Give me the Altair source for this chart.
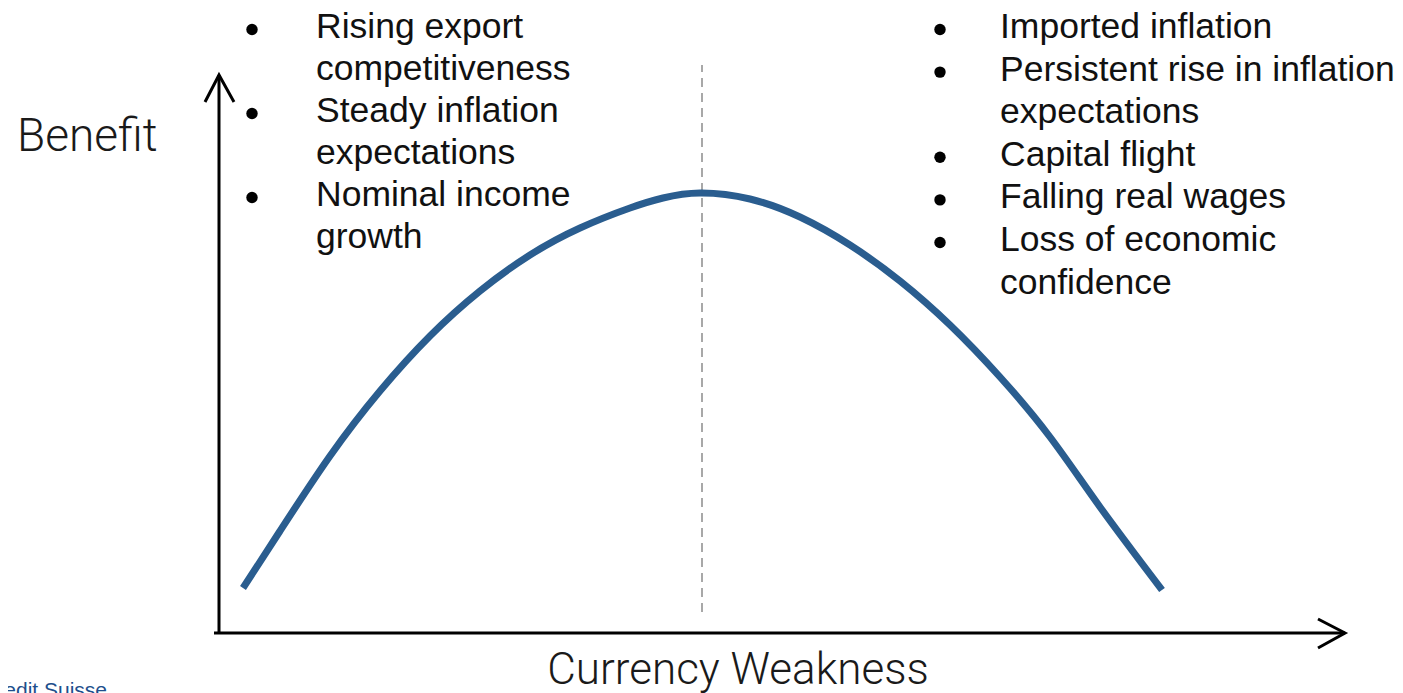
import altair as alt
import pandas as pd

# ---------------- data ----------------
# curve (units: 1 unit ~ 10 px, origin at axis corner)
curve_x = [2.4, 6.1, 11.1, 16.1, 21.1, 26.1, 31.1, 36.1, 41.1, 44.4, 48.1,
           53.1, 58.1, 63.1, 68.1, 73.1, 78.1, 83.1, 88.1, 94.3]
curve_y = [4.5, 10.2, 17.7, 24.2, 29.7, 34.2, 37.8, 40.5, 42.5, 43.5, 44.0,
           43.4, 41.6, 38.8, 35.2, 30.8, 25.6, 19.6, 12.6, 4.3]

left_lines = ["Rising export", "competitiveness", "Steady inflation",
              "expectations", "Nominal income", "growth"]
left_bullet = [True, False, True, False, True, False]
right_lines = ["Imported inflation", "Persistent rise in inflation",
               "expectations", "Capital flight", "Falling real wages",
               "Loss of economic", "confidence"]
right_bullet = [True, True, False, True, True, True, False]

y_title = "Benefit"
x_title = "Currency Weakness"
source_text = "Source: Credit Suisse"

# ---------------- layout ----------------
W, H = 1387, 685
XDOM = [-21.1, 117.6]
YDOM = [-6.0, 62.5]
xs = alt.Scale(domain=XDOM, nice=False, zero=False)
ys = alt.Scale(domain=YDOM, nice=False, zero=False)
X = lambda f: alt.X(f, type="quantitative", scale=xs, axis=None)
Y = lambda f: alt.Y(f, type="quantitative", scale=ys, axis=None)

curve_df = pd.DataFrame({"x": curve_x, "y": curve_y})

# axes with arrow heads (polylines)
axis_df = pd.DataFrame({
    "x": [0, 0, -1.4, 0, 1.5, -0.5, 112.6, 109.9, 112.6, 109.9],
    "y": [0, 55.8, 53.1, 55.8, 53.1, 0, 0, 1.4, 0, -1.5],
    "seg": ["ya", "ya", "yh", "yh", "yh", "xa", "xa", "xh", "xh", "xh"],
    "o": [0, 1, 0, 1, 2, 0, 1, 0, 1, 2],
})

dash_df = pd.DataFrame({"x": [48.3, 48.3], "y": [2.1, 56.8]})

left_x, right_x = 9.7, 78.1
left_bx, right_bx = 3.3, 72.1
top_base = 59.5
bullet_off = 0.85

rows = []
for i, (t, b) in enumerate(zip(left_lines, left_bullet)):
    rows.append({"x": left_x, "y": top_base - i * 4.2, "t": t,
                 "bx": left_bx, "b": b})
for i, (t, b) in enumerate(zip(right_lines, right_bullet)):
    rows.append({"x": right_x, "y": top_base - i * 4.26, "t": t,
                 "bx": right_bx, "b": b})
text_df = pd.DataFrame(rows)
text_df["by"] = text_df["y"] + bullet_off
bullet_df = text_df[text_df["b"]]

ytitle_df = pd.DataFrame({"x": [-20.2], "y": [48.2], "t": [y_title]})
xtitle_df = pd.DataFrame({"x": [51.9], "y": [-5.1], "t": [x_title]})
src_df = pd.DataFrame({"x": [-11.2], "y": [-6.4], "t": [source_text]})

curve = alt.Chart(curve_df).mark_line(
    color="#2a5d8f", strokeWidth=7, interpolate="natural", strokeCap="butt"
).encode(x=X("x"), y=Y("y"))

dash = alt.Chart(dash_df).mark_line(
    color="#a8a8a8", strokeWidth=2, strokeDash=[9, 6]
).encode(x=X("x"), y=Y("y"))

axes = alt.Chart(axis_df).mark_line(
    color="#000000", strokeWidth=3, strokeJoin="miter", strokeCap="butt"
).encode(x=X("x"), y=Y("y"), detail="seg:N", order="o:Q")

texts = alt.Chart(text_df).mark_text(
    align="left", baseline="alphabetic", font="Liberation Sans",
    fontSize=35.5, color="#111111"
).encode(x=X("x"), y=Y("y"), text="t:N")

bullets = alt.Chart(bullet_df).mark_point(
    filled=True, shape="circle", size=130, color="#000000", opacity=1
).encode(x=X("bx"), y=Y("by"))

t_left = alt.Chart(ytitle_df).mark_text(
    align="left", baseline="alphabetic", font="Roboto", fontWeight=300,
    fontSize=46, color="#1a1a1a"
).encode(x=X("x"), y=Y("y"), text="t:N")

t_center = alt.Chart(xtitle_df).mark_text(
    align="center", baseline="alphabetic", font="Roboto", fontWeight=300,
    fontSize=44, color="#1a1a1a"
).encode(x=X("x"), y=Y("y"), text="t:N")

src = alt.Chart(src_df).mark_text(
    align="right", baseline="alphabetic", font="Liberation Sans",
    fontSize=21, color="#1e4f8c"
).encode(x=X("x"), y=Y("y"), text="t:N")

chart = alt.layer(
    dash, curve, axes, texts, bullets, t_left, t_center, src
).properties(
    width=W, height=H,
    autosize=alt.AutoSizeParams(type="none"),
    padding=0,
).configure_view(stroke=None)

chart.save("out.html", embed_options={"renderer": "svg", "actions": False})
